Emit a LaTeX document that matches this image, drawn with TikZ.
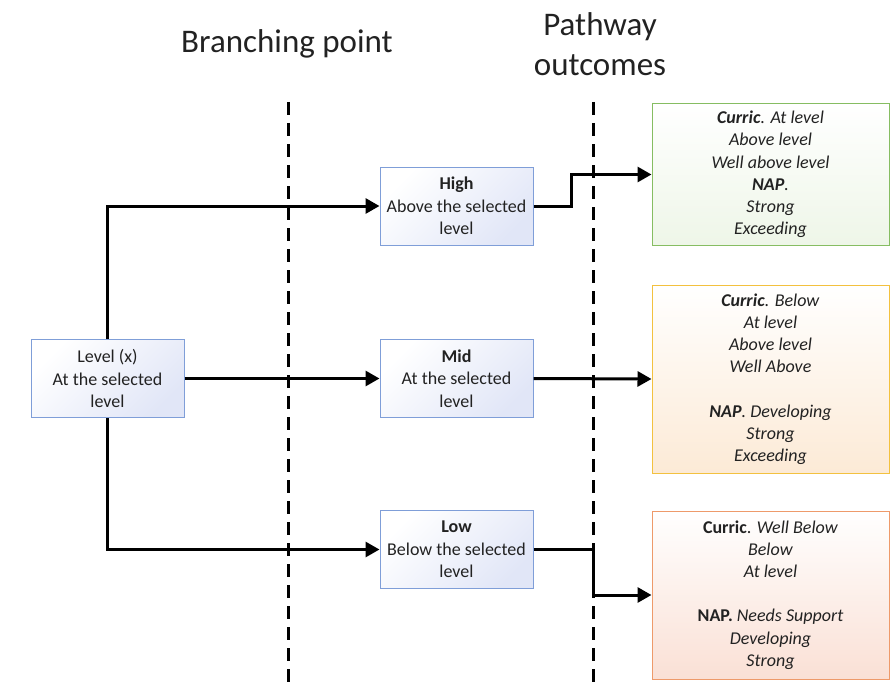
\documentclass[tikz,border=0pt]{standalone}
\usepackage{fontspec}
\setmainfont{Carlito}
\usetikzlibrary{arrows.meta,shadings}
\definecolor{txt}{HTML}{222222}
\definecolor{bluebd}{HTML}{7F9ED8}
\definecolor{bluefl}{HTML}{E1E6F7}
\definecolor{greenbd}{HTML}{86BD62}
\definecolor{greenfl}{HTML}{EEF6E8}
\definecolor{yellowbd}{HTML}{F3C13F}
\definecolor{yellowfl}{HTML}{FCEAD6}
\definecolor{orangebd}{HTML}{EE9A6A}
\definecolor{orangefl}{HTML}{FAE0D5}
\tikzset{
  every node/.style={text=txt},
  bbox/.style={draw=bluebd, line width=1pt, top color=white, bottom color=bluefl, shading angle=45,
    minimum width=153pt, minimum height=78pt, align=center, inner sep=0pt,
    font=\fontsize{18}{22.3}\selectfont},
  obox/.style={line width=1pt, top color=white, shading angle=45,
    minimum width=237pt, align=center, inner sep=0pt,
    font=\fontsize{18}{22.2}\selectfont},
  conn/.style={line width=3pt, -{Triangle[length=14pt,width=15pt]}},
  divider/.style={line width=3pt, dash pattern=on 13pt off 8pt},
  title/.style={font=\fontsize{33}{40}\selectfont, align=center}
}
\begin{document}
\begin{tikzpicture}[x=1pt,y=-1pt]
\useasboundingbox (0,0) rectangle (891,682);
% titles
\node[title] (t1) at (287,44) {Branching point};
\node[title] (t2) at (600,44) {Pathway\\outcomes};
% dividers
\coordinate (d1a) at (288,102);
\coordinate (d1b) at (288,682);
\coordinate (d2a) at (593,102);
\coordinate (d2b) at (593,682);
\draw[divider] (d1a) -- (d1b);
\draw[divider] (d2a) -- (d2b);
% nodes
\node[bbox] (L) at (107.5,378.5) {Level (x)\\At the selected\\level};
\node[bbox] (H) at (456.5,206) {\textbf{High}\\Above the selected\\level};
\node[bbox] (M) at (456.5,378.5) {\textbf{Mid}\\At the selected\\level};
\node[bbox] (W) at (456.5,549.5) {\textbf{Low}\\Below the selected\\level};
\node[obox, draw=greenbd, bottom color=greenfl, minimum height=141pt] (G) at (770.5,174.5)
  {\textbf{\textit{Curric}}\textit{. At level}\\\textit{Above level}\\\textit{Well above level}\\\textbf{\textit{NAP}}\textit{.}\\\textit{Strong}\\\textit{Exceeding}};
\node[obox, draw=yellowbd, bottom color=yellowfl, minimum height=188pt] (Y) at (770.5,379)
  {\textbf{\textit{Curric}}\textit{. Below}\\\textit{At level}\\\textit{Above level}\\\textit{Well Above}\\ ~ \\\textbf{\textit{NAP}}\textit{. Developing}\\\textit{Strong}\\\textit{Exceeding}};
\node[obox, draw=orangebd, bottom color=orangefl, minimum height=168pt] (O) at (770.5,595)
  {\textbf{Curric}. \textit{Well Below}\\\textit{Below}\\\textit{At level}\\ ~ \\\textbf{NAP.} \textit{Needs Support}\\\textit{Developing}\\\textit{Strong}};
% connectors
\coordinate (hb) at (571,206);
\coordinate (lb) at (593,549.5);
\draw[conn] (L.north) |- (H.west);
\draw[conn] (L.east) -- (M.west);
\draw[conn] (L.south) |- (W.west);
\draw[conn] (H.east) -- (hb) |- (G.west);
\draw[conn] (M.east) -- (Y.west);
\draw[conn] (W.east) -- (lb) |- (O.west);
\end{tikzpicture}
\end{document}
